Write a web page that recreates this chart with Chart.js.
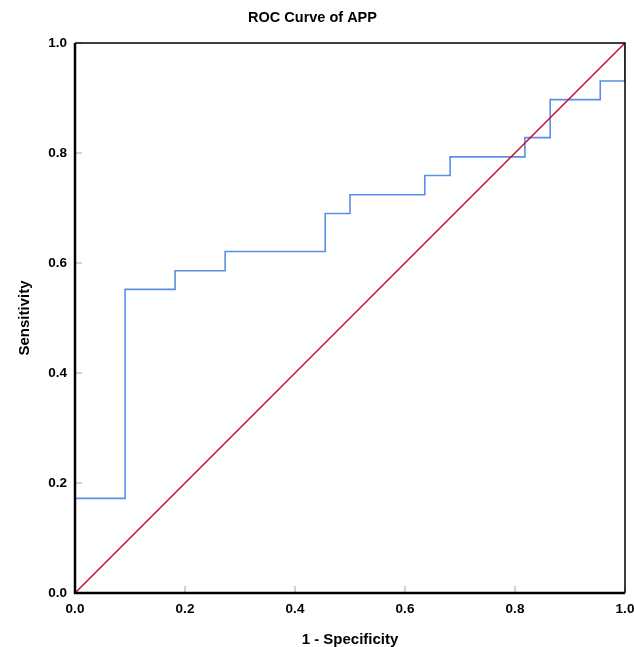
<!DOCTYPE html>
<html>
<head>
<meta charset="utf-8">
<script src="https://cdn.jsdelivr.net/npm/chart.js@4.4.1/dist/chart.umd.min.js"></script>
<style>
  html, body { margin: 0; padding: 0; background: #fff; }
</style>
</head>
<body>
<canvas id="roc" width="634" height="647"></canvas>
<script>
// ROC points (1 - specificity, sensitivity)
const fpr = [0, 0, 0.091, 0.182, 0.273, 0.455, 0.5, 0.636, 0.682, 0.818, 0.864, 0.955, 1];
const tpr = [0, 0.172, 0.552, 0.586, 0.621, 0.690, 0.724, 0.759, 0.793, 0.828, 0.897, 0.931, 1];
const refX = [0, 1];
const refY = [0, 1];
const tickValues = [0, 0.2, 0.4, 0.6, 0.8, 1.0];

const font = 'Arial, "Liberation Sans", sans-serif';

const frame = {
  id: 'frame',
  afterDraw(chart) {
    const c = chart.ctx;
    const a = chart.chartArea;
    const xs = chart.scales.x, ys = chart.scales.y;
    c.save();
    // small inner tick marks
    c.strokeStyle = '#b4b4b4';
    c.lineWidth = 1.2;
    tickValues.forEach(v => {
      const px = xs.getPixelForValue(v);
      c.beginPath(); c.moveTo(px, a.bottom); c.lineTo(px, a.bottom - 7); c.stroke();
      const py = ys.getPixelForValue(v);
      c.beginPath(); c.moveTo(a.left, py); c.lineTo(a.left + 7, py); c.stroke();
    });
    // top and right border
    c.strokeStyle = '#000';
    c.lineWidth = 1.5;
    c.beginPath();
    c.moveTo(a.left, a.top); c.lineTo(a.right, a.top); c.lineTo(a.right, a.bottom);
    c.stroke();
    // left and bottom axes
    c.lineWidth = 2.5;
    c.beginPath();
    c.moveTo(a.left, a.top); c.lineTo(a.left, a.bottom); c.lineTo(a.right, a.bottom);
    c.stroke();
    c.restore();
  }
};

new Chart(document.getElementById('roc'), {
  type: 'line',
  data: {
    datasets: [
      {
        label: 'Reference Line',
        data: refX.map((x, i) => ({ x: x, y: refY[i] })),
        borderColor: '#c8102e',
        borderWidth: 1.5,
        pointRadius: 0,
        fill: false
      },
      {
        label: 'APP',
        data: fpr.map((x, i) => ({ x: x, y: tpr[i] })),
        borderColor: '#5b8ee6',
        borderWidth: 1.6,
        pointRadius: 0,
        stepped: 'before',
        fill: false
      }
    ]
  },
  options: {
    responsive: false,
    animation: false,
    devicePixelRatio: 1,
    layout: { padding: { left: 0, right: 9, top: 0, bottom: 0 } },
    plugins: {
      legend: { display: false },
      tooltip: { enabled: false },
      title: {
        display: true,
        text: 'ROC Curve of APP',
        color: '#000',
        font: { family: font, size: 14.5, weight: 'bold', lineHeight: 1.2 },
        padding: { top: 9, bottom: 16.6 }
      }
    },
    scales: {
      x: {
        type: 'linear',
        min: 0, max: 1,
        grid: { display: false, drawTicks: false },
        border: { display: false },
        ticks: {
          stepSize: 0.2,
          color: '#000',
          padding: 8,
          maxRotation: 0,
          font: { family: font, size: 13.5, weight: 'bold' },
          callback: v => v.toFixed(1)
        },
        title: {
          display: true,
          text: '1 - Specificity',
          color: '#000',
          font: { family: font, size: 15, weight: 'bold', lineHeight: 1 },
          padding: { top: 0, bottom: 0 }
        },
        afterFit(s) { s.height = 54; s.paddingLeft = 0; s.paddingRight = 0; }
      },
      y: {
        type: 'linear',
        min: 0, max: 1,
        grid: { display: false, drawTicks: false },
        border: { display: false },
        ticks: {
          stepSize: 0.2,
          color: '#000',
          padding: 8,
          font: { family: font, size: 13.5, weight: 'bold' },
          callback: v => v.toFixed(1)
        },
        title: {
          display: true,
          text: 'Sensitivity',
          color: '#000',
          font: { family: font, size: 15, weight: 'bold', lineHeight: 1.2 },
          padding: { top: 16, bottom: 16 }
        },
        afterFit(s) { s.width = 75; s.paddingTop = 0; s.paddingBottom = 0; }
      }
    }
  },
  plugins: [frame]
});
</script>
</body>
</html>
